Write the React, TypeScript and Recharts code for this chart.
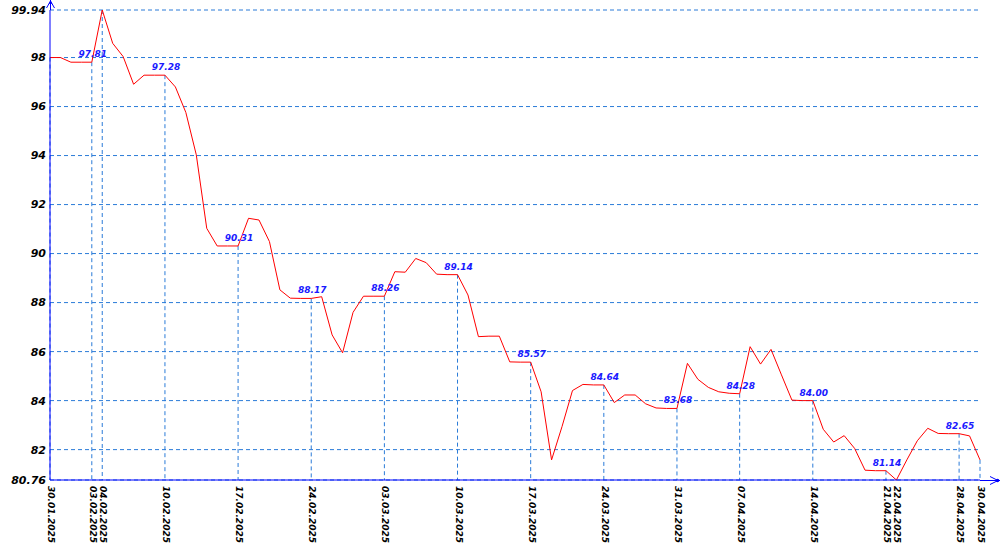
import React from "react";
import {
  LineChart,
  Line,
  XAxis,
  YAxis,
  CartesianGrid,
  ReferenceLine,
  ReferenceDot,
} from "recharts";

// daily closes, 06.04 is absent in the source
const DATES = [
  "30.01.2025", "31.01.2025",
  "01.02.2025", "02.02.2025", "03.02.2025", "04.02.2025", "05.02.2025", "06.02.2025", "07.02.2025",
  "08.02.2025", "09.02.2025", "10.02.2025", "11.02.2025", "12.02.2025", "13.02.2025", "14.02.2025",
  "15.02.2025", "16.02.2025", "17.02.2025", "18.02.2025", "19.02.2025", "20.02.2025", "21.02.2025",
  "22.02.2025", "23.02.2025", "24.02.2025", "25.02.2025", "26.02.2025", "27.02.2025", "28.02.2025",
  "01.03.2025", "02.03.2025", "03.03.2025", "04.03.2025", "05.03.2025", "06.03.2025", "07.03.2025",
  "08.03.2025", "09.03.2025", "10.03.2025", "11.03.2025", "12.03.2025", "13.03.2025", "14.03.2025",
  "15.03.2025", "16.03.2025", "17.03.2025", "18.03.2025", "19.03.2025", "20.03.2025", "21.03.2025",
  "22.03.2025", "23.03.2025", "24.03.2025", "25.03.2025", "26.03.2025", "27.03.2025", "28.03.2025",
  "29.03.2025", "30.03.2025", "31.03.2025",
  "01.04.2025", "02.04.2025", "03.04.2025", "04.04.2025", "05.04.2025", "07.04.2025",
  "08.04.2025", "09.04.2025", "10.04.2025", "11.04.2025", "12.04.2025", "13.04.2025", "14.04.2025",
  "15.04.2025", "16.04.2025", "17.04.2025", "18.04.2025", "19.04.2025", "20.04.2025", "21.04.2025",
  "22.04.2025", "23.04.2025", "24.04.2025", "25.04.2025", "26.04.2025", "27.04.2025", "28.04.2025",
  "29.04.2025", "30.04.2025",
];

const PRICES = [
  98.0, 98.0,
  97.81, 97.81, 97.81, 99.94, 98.58, 98.04, 96.91,
  97.28, 97.28, 97.28, 96.8, 95.76, 94.03, 91.03,
  90.31, 90.31, 90.31, 91.44, 91.37, 90.49, 88.52,
  88.18, 88.17, 88.17, 88.24, 86.68, 85.95, 87.6,
  88.26, 88.26, 88.26, 89.26, 89.24, 89.8, 89.63,
  89.16, 89.14, 89.14, 88.31, 86.61, 86.63, 86.63,
  85.58, 85.57, 85.57, 84.36, 81.58, 82.94, 84.41,
  84.66, 84.64, 84.64, 83.92, 84.23, 84.23, 83.87,
  83.7, 83.68, 83.68,
  85.52, 84.87, 84.54, 84.36, 84.3, 84.28,
  86.2, 85.49, 86.09, 85.05, 84.02, 84.0, 84.0,
  82.83, 82.31, 82.57, 82.05, 81.16, 81.14, 81.14,
  80.76, 81.58, 82.36, 82.87, 82.66, 82.65, 82.65,
  82.56, 81.58,
];

const TICK_DATES = [
  "30.01.2025", "03.02.2025", "04.02.2025", "10.02.2025", "17.02.2025", "24.02.2025",
  "03.03.2025", "10.03.2025", "17.03.2025", "24.03.2025", "31.03.2025", "07.04.2025",
  "14.04.2025", "21.04.2025", "22.04.2025", "28.04.2025", "30.04.2025",
];

const LABEL_DATES = [
  "03.02.2025", "10.02.2025", "17.02.2025", "24.02.2025", "03.03.2025", "10.03.2025",
  "17.03.2025", "24.03.2025", "31.03.2025", "07.04.2025", "14.04.2025", "21.04.2025",
  "28.04.2025",
];

const Y_TICKS = [80.76, 82, 84, 86, 88, 90, 92, 94, 96, 98, 99.94];
const Y_MIN = 80.76;
const Y_MAX = 99.94;

const GRID = "#2a7bd8";
const AXIS = "#0000ff";
const FONT = "'DejaVu Sans', Verdana, sans-serif";

const data = DATES.map((d, i) => ({ i, date: d, price: PRICES[i] }));
const tickIdx = TICK_DATES.map((d) => DATES.indexOf(d));
const labelIdx = LABEL_DATES.map((d) => DATES.indexOf(d));

function DateTick({ x, y, payload }: any) {
  return (
    <text
      x={x + 6}
      y={y + 2}
      transform={`rotate(90 ${x} ${y})`}
      fill="#000"
      fontSize={9}
      fontWeight="bold"
      fontStyle="italic"
      fontFamily={FONT}
      textAnchor="start"
    >
      {DATES[payload.value]}
    </text>
  );
}

function Arrows() {
  // axis arrow heads, drawn over the chart
  return (
    <svg
      width={1000}
      height={550}
      style={{ position: "absolute", left: 0, top: 0, pointerEvents: "none" }}
    >
      <line x1={50.5} y1={0} x2={50.5} y2={10} stroke={AXIS} />
      <polyline points="46.5,8 50.5,1 54.5,8" fill="none" stroke={AXIS} />
      <polygon points="49,4 50.5,0 52,4" fill={AXIS} />
      <line x1={980} y1={480.5} x2={1000} y2={480.5} stroke={AXIS} />
      <polyline points="990,476.5 998,480.5 990,484.5" fill="none" stroke={AXIS} />
      <circle cx={997.5} cy={480.5} r={1.8} fill={AXIS} />
    </svg>
  );
}

export default function App() {
  return (
    <div style={{ position: "absolute", left: 0, top: 0, width: 1000, height: 550, background: "#fff" }}>
      <LineChart
        width={1000}
        height={550}
        data={data}
        margin={{ top: 10, right: 20, bottom: 0, left: 0 }}
        style={{ fontFamily: FONT }}
      >
        <CartesianGrid vertical={false} stroke={GRID} strokeDasharray="4 3" />
        <XAxis
          dataKey="i"
          type="number"
          domain={[0, DATES.length - 1]}
          ticks={tickIdx}
          interval={0}
          height={70}
          tickLine={false}
          tickSize={0}
          tickMargin={0}
          axisLine={{ stroke: AXIS, strokeWidth: 1 }}
          tick={<DateTick />}
        />
        <YAxis
          type="number"
          domain={[Y_MIN, Y_MAX]}
          ticks={Y_TICKS}
          interval={0}
          width={50}
          tickLine={false}
          tickSize={0}
          tickMargin={4}
          axisLine={{ stroke: AXIS, strokeWidth: 1 }}
          tickFormatter={(v: number) => (Number.isInteger(v) ? String(v) : v.toFixed(2))}
          tick={{
            fill: "#000",
            fontSize: 11,
            fontWeight: "bold",
            fontStyle: "italic",
            fontFamily: FONT,
          }}
        />
        {tickIdx.map((i) => (
          <ReferenceLine
            key={"drop" + i}
            segment={[
              { x: i, y: PRICES[i] },
              { x: i, y: Y_MIN },
            ]}
            stroke={GRID}
            strokeDasharray="4 3"
          />
        ))}
        <Line
          type="linear"
          dataKey="price"
          stroke="#ff0000"
          strokeWidth={1}
          dot={false}
          activeDot={false}
          isAnimationActive={false}
        />
        {labelIdx.map((i) => (
          <ReferenceDot
            key={"lbl" + i}
            x={i}
            y={PRICES[i]}
            r={0}
            fill="none"
            stroke="none"
            label={{
              value: PRICES[i].toFixed(2),
              position: "top",
              offset: 5,
              dx: 1,
              fill: "#1a1aff",
              fontSize: 9,
              fontWeight: "bold",
              fontStyle: "italic",
              fontFamily: FONT,
            }}
          />
        ))}
      </LineChart>
      <Arrows />
    </div>
  );
}
